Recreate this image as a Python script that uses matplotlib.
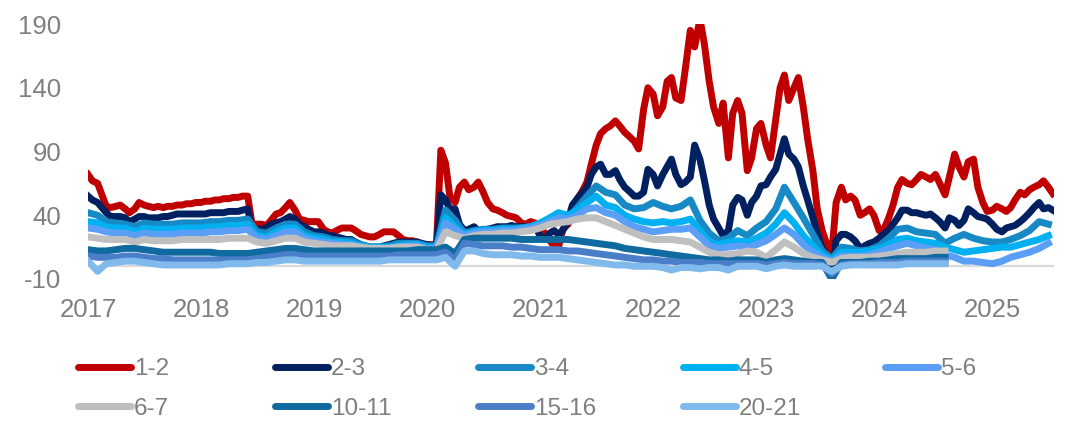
import numpy as np
import pandas as pd
import matplotlib
matplotlib.use('Agg')
import matplotlib.pyplot as plt
from matplotlib.lines import Line2D

plt.rcParams['font.family'] = ['Liberation Sans', 'DejaVu Sans']
plt.rcParams['axes.unicode_minus'] = False

# 半月频率（1-2, 2-3），2017-01-01 起
s12 = [72, 67, 65, 56, 47, 46, 47, 48, 45, 42, 45, 50, 48, 47, 46, 47, 46, 47, 47, 48, 48, 49, 49, 50,
       50, 51, 51, 52, 52, 53, 53, 54, 54, 55, 55, 33, 33, 33, 32, 36, 41, 42, 46, 50, 44, 37, 36, 35,
       35, 35, 29, 27, 26, 28, 30, 30, 30, 28, 25, 24, 23, 23, 25, 27, 27, 27, 24, 21, 20, 20, 19, 17,
       17, 17, 17, 91, 81, 55, 50, 62, 66, 60, 62, 66, 58, 50, 45, 44, 42, 40, 39, 38, 34, 33, 35, 34,
       31, 26, 20, 16, 15, 29, 33, 46, 53, 58, 66, 80, 95, 104, 108, 110, 114, 110, 105, 102, 98, 92, 123, 140,
       135, 118, 125, 145, 148, 132, 130, 155, 185, 172, 194, 175, 145, 125, 112, 128, 85, 120, 130, 120, 75, 85, 108, 112,
       95, 85, 115, 140, 150, 130, 140, 148, 125, 100, 75, 45, 28, 18, 10, 50, 62, 52, 55, 52, 40, 42, 45, 40,
       28, 28, 38, 48, 62, 68, 65, 64, 68, 72, 70, 68, 72, 65, 56, 70, 88, 78, 70, 82, 84, 62, 50, 43,
       44, 47, 45, 43, 46, 52, 58, 56, 60, 62, 64, 67, 62, 57]
s23 = [55, 52, 50, 46, 42, 39, 39, 39, 38, 35, 37, 39, 39, 38, 38, 38, 39, 39, 40, 41, 41, 41, 41, 41,
       41, 41, 42, 42, 42, 42, 43, 43, 43, 44, 45, 29, 29, 29, 30, 33, 34, 35, 37, 39, 37, 33, 31, 29,
       27, 27, 26, 24, 24, 23, 22, 21, 21, 19, 17, 16, 15, 15, 15, 16, 17, 18, 19, 19, 19, 19, 19, 18,
       17, 16, 16, 56, 52, 45, 45, 33, 28, 29, 31, 28, 28, 29, 30, 31, 31, 31, 32, 31, 31, 31, 30, 31,
       24, 21, 26, 28, 25, 28, 36, 48, 53, 57, 62, 72, 78, 80, 72, 72, 75, 68, 62, 59, 55, 55, 58, 76,
       72, 63, 72, 78, 84, 72, 64, 66, 70, 95, 84, 68, 48, 37, 30, 24, 28, 48, 54, 52, 40, 50, 55, 63,
       64, 70, 76, 88, 100, 88, 84, 78, 63, 52, 38, 26, 14, 10, -5, 20, 25, 25, 23, 20, 14, 16, 18, 19,
       22, 25, 28, 33, 38, 44, 44, 42, 42, 41, 40, 41, 38, 35, 30, 38, 36, 32, 36, 45, 42, 39, 38, 37,
       33, 29, 27, 30, 31, 32, 35, 38, 42, 46, 50, 45, 46, 44]

# 月度频率
s34 = [42, 40, 35, 34, 33, 31, 34, 33, 33, 33, 34, 34,
       34, 35, 35, 36, 36, 37, 27, 26, 30, 33, 33, 27,
       24, 23, 21, 20, 20, 17, 15, 15, 16, 18, 18, 18,
       16, 16, 44, 36, 26, 28, 29, 29, 30, 30, 30, 31,
       33, 34, 36, 38, 46, 55, 63, 58, 56, 48, 45, 46,
       50, 47, 45, 47, 52, 36, 26, 20, 22, 28, 24, 30,
       35, 45, 62, 50, 38, 25, 12, 6, 15, 14, 12, 13,
       16, 22, 29, 30, 27, 26, 25, 18, 22, 25, 22, 20,
       19, 19, 21, 24, 28, 35, 33]
s45 = [35, 34, 31, 30, 30, 27, 30, 29, 29, 29, 30, 30,
       30, 31, 31, 32, 32, 33, 24, 23, 27, 30, 30, 24,
       22, 21, 19, 19, 18, 16, 15, 15, 15, 16, 17, 17,
       15, 15, 38, 31, 25, 27, 28, 28, 29, 29, 30, 31,
       34, 38, 42, 40, 44, 50, 55, 48, 46, 40, 37, 35,
       34, 35, 34, 35, 37, 28, 19, 17, 19, 20, 19, 22,
       26, 33, 42, 34, 24, 16, 9, 5, 11, 11, 11, 12,
       14, 17, 21, 22, 20, 19, 18, 15, 13, 11, 12, 13,
       14, 15, 15, 17, 19, 21, 24]
s56 = [30, 29, 27, 26, 26, 24, 26, 25, 25, 25, 26, 26,
       26, 27, 27, 28, 28, 29, 22, 21, 24, 27, 27, 22,
       20, 19, 18, 17, 17, 15, 14, 14, 14, 15, 16, 16,
       14, 14, 34, 29, 24, 26, 27, 27, 28, 28, 29, 30,
       32, 35, 38, 37, 40, 45, 46, 42, 40, 35, 31, 29,
       27, 28, 29, 29, 30, 23, 16, 14, 15, 16, 15, 17,
       20, 25, 30, 25, 17, 11, 7, 4, 8, 8, 8, 9,
       11, 14, 16, 18, 16, 14, 13, 9, 7, 4, 4, 3,
       2, 4, 7, 9, 11, 14, 18]
s67 = [23, 22, 21, 21, 21, 19, 21, 20, 20, 20, 21, 21,
       21, 21, 21, 22, 22, 22, 19, 18, 20, 22, 22, 19,
       18, 17, 16, 16, 16, 15, 14, 14, 14, 15, 15, 15,
       13, 13, 27, 24, 22, 24, 25, 25, 26, 26, 27, 28,
       30, 33, 34, 35, 37, 38, 38, 35, 32, 29, 26, 23,
       21, 21, 21, 20, 19, 15, 11, 9, 9, 10, 12, 11,
       7, 13, 19, 15, 10, 7, 5, 3, 6, 7, 7, 7,
       8, 9, 10, 11, 11, 11, 12, 12]
s1011 = [13, 12, 12, 13, 14, 14, 13, 12, 11, 11, 11, 11,
         11, 11, 10, 10, 10, 10, 11, 12, 13, 14, 14, 13,
         12, 12, 12, 12, 12, 12, 12, 12, 12, 12, 12, 13,
         13, 13, 15, 10, 21, 22, 22, 22, 22, 22, 21, 21,
         21, 21, 21, 21, 20, 19, 18, 17, 16, 14, 13, 12,
         11, 10, 9, 8, 7, 6, 5, 5, 4, 5, 5, 5,
         3, 5, 6, 5, 4, 3, 3, -10, 3, 3, 3, 4,
         4, 5, 6, 6, 6, 6, 7, 7]
s1516 = [8, 7, 7, 7, 8, 8, 7, 6, 6, 5, 5, 5,
         5, 5, 5, 5, 5, 5, 6, 7, 8, 9, 9, 8,
         8, 8, 8, 8, 8, 8, 8, 8, 8, 9, 9, 9,
         9, 9, 11, 5, 18, 17, 16, 16, 16, 15, 15, 14,
         13, 13, 13, 12, 12, 11, 10, 9, 8, 7, 6, 5,
         5, 4, 4, 3, 3, 3, 2, 2, 2, 2, 2, 2,
         1, 2, 3, 2, 2, 2, 1, -6, 1, 2, 2, 2,
         3, 3, 3, 4, 4, 4, 4, 4]
s2021 = [4, -4, 2, 3, 4, 4, 3, 2, 1, 1, 1, 1,
         1, 1, 1, 2, 2, 2, 3, 3, 4, 5, 5, 4,
         4, 4, 4, 4, 4, 4, 4, 4, 5, 5, 5, 5,
         5, 5, 7, 0, 12, 12, 10, 9, 9, 9, 8, 8,
         7, 7, 7, 6, 5, 4, 3, 2, 1, 1, 0, 0,
         0, -1, -3, -1, -1, -2, -1, -1, -3, 0, 0, 0,
         -2, 0, 1, 0, 0, 0, 0, -4, 0, 1, 1, 1,
         1, 1, 1, 2, 2, 2, 2, 2]

labels = ['1-2', '2-3', '3-4', '4-5', '5-6', '6-7', '10-11', '15-16', '20-21']
colors = ['#C00000', '#002060', '#1789C5', '#00B0F0', '#5B9EF6',
          '#BFBFBF', '#0F6AA0', '#4A7EC8', '#80B9EC']
series = [s12, s23, s34, s45, s56, s67, s1011, s1516, s2021]
years = list(range(2017, 2026))

fig = plt.figure(figsize=(10.68, 4.24), dpi=100)
ax = fig.add_axes([88 / 1068, 1 - 279 / 424, (1054 - 88) / 1068, (279 - 24) / 424])

ax.axhline(0, color='#D9D9D9', lw=1.6, zorder=0)

handles = []
for i, (vals, lab, col) in enumerate(zip(series, labels, colors)):
    if i < 2:
        dates = pd.date_range('2017-01-01', periods=len(vals), freq='SMS')
    else:
        dates = pd.date_range('2017-01-01', periods=len(vals), freq='MS')
    ax.plot(dates, vals, color=col, lw=5, solid_joinstyle='round', zorder=2 + i)
    handles.append(Line2D([], [], color=col, lw=5, solid_capstyle='round', label=lab))

ax.set_xlim(pd.Timestamp('2017-01-01'), pd.Timestamp('2025-07-19'))
ax.set_ylim(-10, 190)
ax.set_yticks([-10, 40, 90, 140, 190])
ax.set_xticks([pd.Timestamp(f'{y}-01-01') for y in years])
ax.set_xticklabels([str(y) for y in years])
for s in ax.spines.values():
    s.set_visible(False)
ax.tick_params(axis='x', length=0, pad=14, labelsize=18.5, labelcolor='#7F7F7F')
ax.tick_params(axis='y', length=0, pad=19, labelsize=18.5, labelcolor='#7F7F7F')

# 图例：五列两行
col_x = [78, 275, 478, 683, 885]
for c in range(5):
    hs = [handles[c]] + ([handles[c + 5]] if c + 5 < len(handles) else [])
    fig.legend(handles=hs, loc='upper left', bbox_to_anchor=(col_x[c] / 1068, 1 - 358 / 424),
               frameon=False, borderpad=0, borderaxespad=0, handlelength=2.2,
               handletextpad=0.1, labelspacing=0.72,
               prop={'family': ['Liberation Sans Narrow', 'Liberation Sans'], 'size': 17.5},
               labelcolor='#7F7F7F')

fig.savefig('out.png', dpi=100)
